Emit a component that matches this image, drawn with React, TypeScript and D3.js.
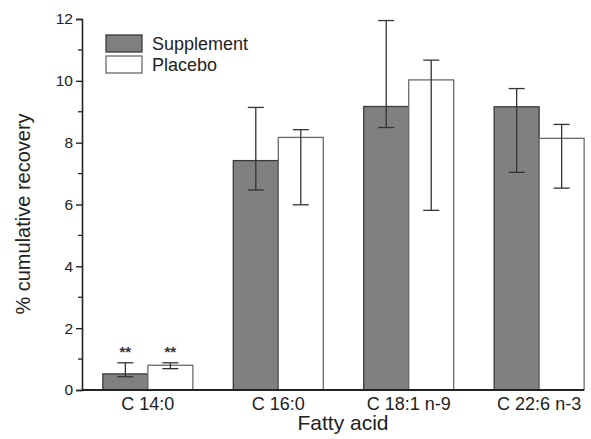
import React, { useEffect, useRef } from "react";
import * as d3 from "d3";

const categories = ["C 14:0", "C 16:0", "C 18:1 n-9", "C 22:6 n-3"];
const seriesNames = ["Supplement", "Placebo"];
const supplementMean = [0.52, 7.42, 9.17, 9.16];
const supplementHigh = [0.88, 9.14, 11.95, 9.75];
const supplementLow = [0.43, 6.47, 8.49, 7.04];
const placeboMean = [0.8, 8.17, 10.03, 8.14];
const placeboHigh = [0.88, 8.42, 10.67, 8.59];
const placeboLow = [0.69, 5.99, 5.81, 6.53];
const yTicks = [0, 2, 4, 6, 8, 10, 12];
const significance = ["**", "", "", ""];

const W = 591, H = 439;
const FONT = "'Liberation Sans', Arial, sans-serif";

export default function App() {
  const ref = useRef<SVGSVGElement>(null);

  useEffect(() => {
    const svg = d3.select(ref.current);
    svg.selectAll("*").remove();

    const x0 = 82, x1 = 584, yTop = 19, yBottom = 390;
    const y = d3.scaleLinear().domain([0, 12]).range([yBottom, yTop]);
    const x = d3.scaleBand<string>()
      .domain(categories)
      .range([x0, 605])
      .paddingInner(0.31)
      .paddingOuter(0.16);
    const xs = d3.scaleBand<string>().domain(seriesNames).range([0, x.bandwidth()]);

    const series = [
      { name: "Supplement", mean: supplementMean, hi: supplementHigh, lo: supplementLow, fill: "#808080", stroke: "#3a3a3a" },
      { name: "Placebo", mean: placeboMean, hi: placeboHigh, lo: placeboLow, fill: "#ffffff", stroke: "#6a6a6a" },
    ];

    // bars
    series.forEach((s) => {
      const g = svg.append("g");
      g.selectAll("rect")
        .data(categories)
        .enter().append("rect")
        .attr("x", (c) => (x(c) as number) + (xs(s.name) as number))
        .attr("width", xs.bandwidth())
        .attr("y", (c, i) => y(s.mean[i]))
        .attr("height", (c, i) => yBottom - y(s.mean[i]))
        .attr("fill", s.fill)
        .attr("stroke", s.stroke)
        .attr("stroke-width", 1.3);
    });

    // error bars
    series.forEach((s) => {
      const g = svg.append("g").attr("stroke", "#333").attr("stroke-width", 1.3);
      categories.forEach((c, i) => {
        const cx = (x(c) as number) + (xs(s.name) as number) + xs.bandwidth() / 2;
        g.append("line").attr("x1", cx).attr("x2", cx).attr("y1", y(s.hi[i])).attr("y2", y(s.lo[i]));
        g.append("line").attr("x1", cx - 8).attr("x2", cx + 8).attr("y1", y(s.hi[i])).attr("y2", y(s.hi[i]));
        g.append("line").attr("x1", cx - 8).attr("x2", cx + 8).attr("y1", y(s.lo[i])).attr("y2", y(s.lo[i]));
      });
    });

    // significance marks, same height above the pair
    categories.forEach((c, i) => {
      if (!significance[i]) return;
      const top = d3.max(series, (s) => s.hi[i]) as number;
      series.forEach((s) => {
        const cx = (x(c) as number) + (xs(s.name) as number) + xs.bandwidth() / 2;
        svg.append("text")
          .attr("x", cx).attr("y", y(top) - 6)
          .attr("text-anchor", "middle")
          .style("font-family", FONT).style("font-size", "15px").style("font-weight", "bold")
          .attr("fill", "#333")
          .text(significance[i]);
      });
    });

    // y axis
    const yAxis = svg.append("g")
      .attr("transform", `translate(${x0},0)`)
      .call(d3.axisLeft(y).tickValues(yTicks).tickSize(6).tickPadding(3).tickFormat(d3.format("d")));
    yAxis.select(".domain").attr("stroke", "#222").attr("stroke-width", 1.6);
    yAxis.selectAll(".tick line").attr("stroke", "#222").attr("stroke-width", 1.4);
    yAxis.selectAll(".tick text").style("font-family", FONT).style("font-size", "15.5px").attr("fill", "#222");
    const minor = d3.range(1, 12, 2);
    yAxis.selectAll(".minor").data(minor).enter().append("line")
      .attr("x1", -4).attr("x2", 0)
      .attr("y1", (d) => y(d)).attr("y2", (d) => y(d))
      .attr("stroke", "#222").attr("stroke-width", 1.3);

    // x axis
    svg.append("line")
      .attr("x1", x0).attr("x2", x1).attr("y1", yBottom).attr("y2", yBottom)
      .attr("stroke", "#222").attr("stroke-width", 1.8);
    svg.append("g").selectAll("text")
      .data(categories)
      .enter().append("text")
      .attr("x", (c) => (x(c) as number) + x.bandwidth() / 2)
      .attr("y", 410)
      .attr("text-anchor", "middle")
      .style("font-family", FONT).style("font-size", "18px")
      .attr("fill", "#222")
      .text((c) => c);

    svg.append("text")
      .attr("x", 343).attr("y", 430)
      .attr("text-anchor", "middle")
      .style("font-family", FONT).style("font-size", "21px")
      .attr("fill", "#222")
      .text("Fatty acid");

    svg.append("text")
      .attr("transform", `translate(30,214) rotate(-90)`)
      .attr("text-anchor", "middle")
      .style("font-family", FONT).style("font-size", "20px")
      .attr("fill", "#222")
      .text("% cumulative recovery");

    // legend
    const legend = svg.append("g").attr("transform", "translate(106,35)");
    series.forEach((s, i) => {
      legend.append("rect")
        .attr("x", 0).attr("y", i * 21).attr("width", 36).attr("height", 17)
        .attr("fill", s.fill).attr("stroke", s.stroke).attr("stroke-width", 1.3);
      legend.append("text")
        .attr("x", 46).attr("y", i * 21 + 15)
        .style("font-family", FONT).style("font-size", "18px")
        .attr("fill", "#222")
        .text(s.name);
    });
  }, []);

  return (
    <svg ref={ref} width={W} height={H} style={{ position: "absolute", left: 0, top: 0, background: "#fff" }} />
  );
}
